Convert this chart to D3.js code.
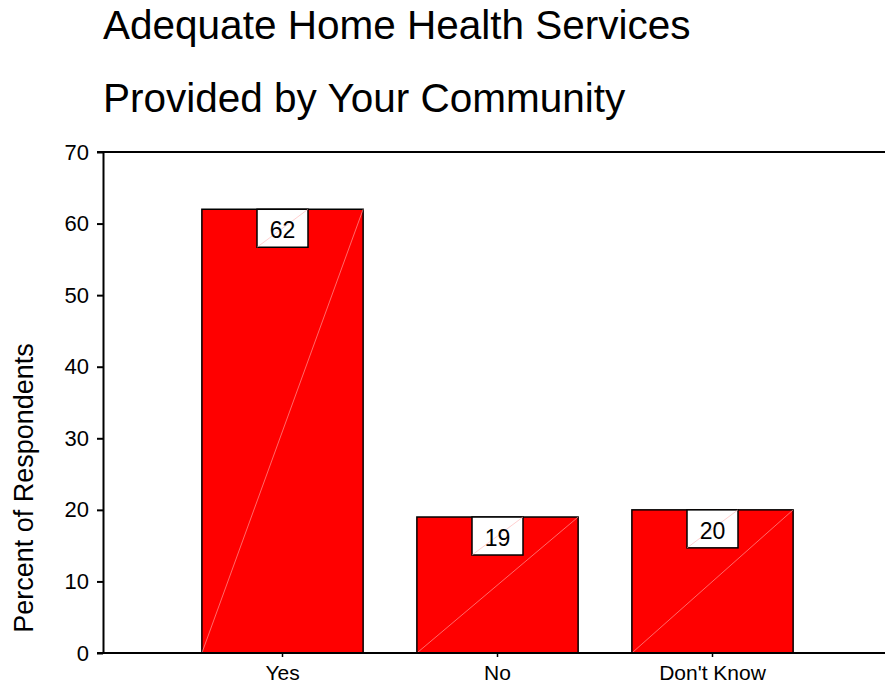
<!DOCTYPE html>
<html>
<head>
<meta charset="utf-8">
<script src="https://cdn.jsdelivr.net/npm/d3@7"></script>
<style>
  html, body { margin: 0; padding: 0; background: #fff; }
  svg { display: block; font-family: "Liberation Sans", Arial, sans-serif; }
</style>
</head>
<body>
<svg id="chart" width="885" height="689"></svg>
<script>
// Survey responses (percent of respondents)
const categories = ["Yes", "No", "Don't Know"];
const percents = [62, 19, 20];
const yTicks = [0, 10, 20, 30, 40, 50, 60, 70];
const titleLines = ["Adequate Home Health Services", "Provided by Your Community"];
const yTitle = "Percent of Respondents";

const svg = d3.select("#chart");
const plot = { left: 103, right: 885, top: 152, bottom: 653 };
const FONT = "Liberation Sans, Arial, sans-serif";

const x = d3.scaleBand()
  .domain(categories)
  .range([175, 820])
  .paddingInner(0.25)
  .paddingOuter(0.125);

const y = d3.scaleLinear()
  .domain([0, 70])
  .range([plot.bottom, plot.top]);

// Title
svg.append("g").selectAll("text")
  .data(titleLines)
  .join("text")
  .attr("x", 103)
  .attr("y", (d, i) => 39 + i * 73)
  .attr("font-size", 40.5)
  .attr("fill", "#000")
  .text(d => d);

// Bars
const bars = svg.append("g");
bars.selectAll("rect")
  .data(percents)
  .join("rect")
  .attr("x", (d, i) => x(categories[i]))
  .attr("y", d => y(d))
  .attr("width", x.bandwidth())
  .attr("height", d => y(0) - y(d))
  .attr("fill", "#ff0000")
  .attr("stroke", "#000")
  .attr("stroke-width", 1.5);

// faint diagonal seam across each bar
bars.selectAll("line")
  .data(percents)
  .join("line")
  .attr("x1", (d, i) => x(categories[i]))
  .attr("y1", y(0))
  .attr("x2", (d, i) => x(categories[i]) + x.bandwidth())
  .attr("y2", d => y(d))
  .attr("stroke", "#ffb0b0")
  .attr("stroke-width", 0.6);

// Value labels in boxes hanging from the bar tops
const boxW = 51, boxH = 38;
const labels = svg.append("g").selectAll("g")
  .data(percents)
  .join("g")
  .attr("transform", (d, i) => `translate(${x(categories[i]) + x.bandwidth() / 2},${y(d)})`);
labels.append("rect")
  .attr("x", -boxW / 2)
  .attr("y", 0)
  .attr("width", boxW)
  .attr("height", boxH)
  .attr("fill", "#fff")
  .attr("stroke", "#000")
  .attr("stroke-width", 1.5);
labels.append("line")
  .attr("x1", -boxW / 2).attr("y1", boxH)
  .attr("x2", boxW / 2).attr("y2", 0)
  .attr("stroke", "#ffb0b0")
  .attr("stroke-width", 0.6);
labels.append("text")
  .attr("x", 0)
  .attr("y", 29)
  .attr("text-anchor", "middle")
  .attr("font-size", 23)
  .attr("fill", "#000")
  .text(d => d);

// Y axis
const yAxis = svg.append("g")
  .attr("transform", `translate(${plot.left},0)`)
  .call(d3.axisLeft(y).tickValues(yTicks).tickSize(6).tickPadding(8).tickSizeOuter(0));
yAxis.select(".domain").attr("stroke", "#000").attr("stroke-width", 2);
yAxis.selectAll(".tick line").attr("stroke", "#000").attr("stroke-width", 2);
yAxis.selectAll(".tick text")
  .attr("font-size", 22)
  .attr("font-family", FONT)
  .attr("fill", "#000");

// X axis
const xAxis = svg.append("g")
  .attr("transform", `translate(0,${plot.bottom})`)
  .call(d3.axisBottom(x).tickSize(4).tickPadding(8).tickSizeOuter(0));
xAxis.select(".domain").remove();
xAxis.selectAll(".tick line").attr("stroke", "#000").attr("stroke-width", 1.5);
xAxis.selectAll(".tick text")
  .attr("font-size", 21)
  .attr("font-family", FONT)
  .attr("fill", "#000");

// Plot frame: baseline and top rule
svg.append("line")
  .attr("x1", plot.left - 6).attr("x2", plot.right)
  .attr("y1", plot.bottom).attr("y2", plot.bottom)
  .attr("stroke", "#000").attr("stroke-width", 2);
svg.append("line")
  .attr("x1", plot.left - 6).attr("x2", plot.right)
  .attr("y1", plot.top).attr("y2", plot.top)
  .attr("stroke", "#000").attr("stroke-width", 2);

// Y axis title
svg.append("text")
  .attr("transform", `translate(33,488) rotate(-90)`)
  .attr("text-anchor", "middle")
  .attr("font-size", 27)
  .attr("fill", "#000")
  .text(yTitle);
</script>
</body>
</html>
